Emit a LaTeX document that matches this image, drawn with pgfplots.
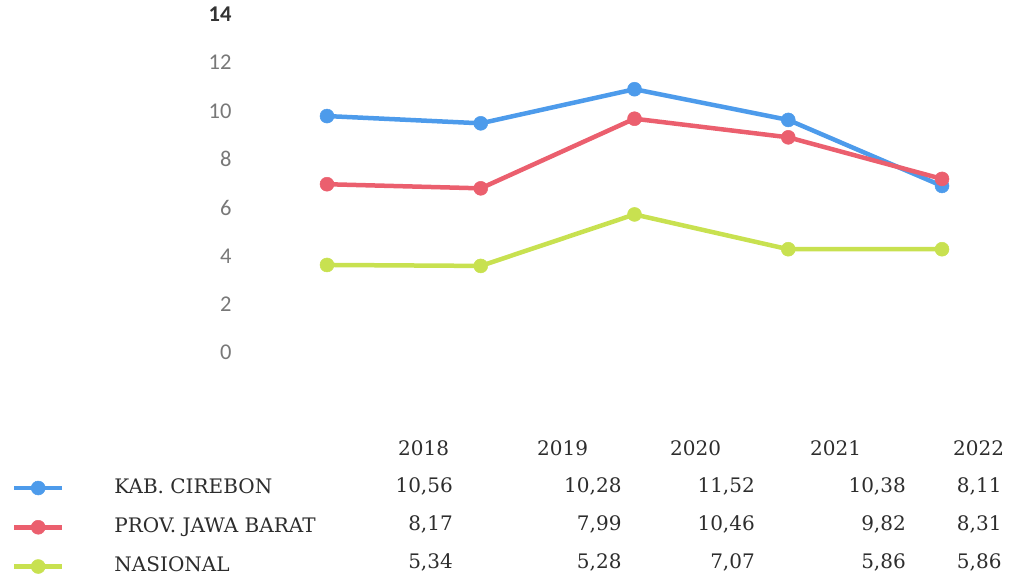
\documentclass[border=0pt]{standalone}
\usepackage{fontspec}
\setmainfont{DejaVu Serif}
\newfontfamily\carlito{Carlito}
\usepackage{pgfplots}
\pgfplotsset{compat=1.18}
\definecolor{cblue}{RGB}{77,155,235}
\definecolor{cred}{RGB}{235,95,110}
\definecolor{cgreen}{RGB}{200,225,80}
\definecolor{ctick}{RGB}{120,120,120}
\definecolor{ctext}{RGB}{45,45,45}
\begin{document}
\begin{tikzpicture}
\path[use as bounding box] (0,0) rectangle (1013pt,580pt);
\begin{axis}[
  at={(234.75pt,227.3pt)}, anchor=south west,
  scale only axis, width=753.4pt, height=338.4pt,
  xmin=-0.6, xmax=4.3, ymin=0, ymax=14,
  axis line style={draw=none},
  major tick length=0pt,
  xtick=\empty,
  ytick={0,2,4,6,8,10,12,14},
  yticklabels={0,2,4,6,8,10,12,{\color{black!80}\bfseries 14}},
  yticklabel style={font=\carlito\fontsize{22.5}{26}\selectfont, text=ctick, inner sep=0pt, xshift=-3pt},
  clip=false,
  legend style={at={(axis description cs:-0.2957,-0.3703)}, anchor=north west,
    draw=none, fill=none, inner sep=0pt, outer sep=0pt, row sep=14pt,
    font=\fontsize{20}{24}\selectfont, text=ctext,
    nodes={inner sep=0pt, text height=15pt, text depth=5pt}},
  legend cell align=left,
  legend image code/.code={
    \draw[#1, mark repeat=2, mark phase=2] plot coordinates {(0pt,0pt)(24pt,0pt)(48pt,0pt)};
    \path (98pt,0pt) (0pt,-13pt);
  },
]
\addplot[cblue, line width=4.5pt, mark=*, mark size=7pt, mark options={line width=0.5pt}]
  coordinates {(0,9.79)(1,9.49)(2,10.90)(3,9.63)(4,6.90)};
\addlegendentry{KAB. CIREBON}
\addplot[cred, line width=4.5pt, mark=*, mark size=7pt, mark options={line width=0.5pt}]
  coordinates {(0,6.97)(1,6.80)(2,9.68)(3,8.91)(4,7.19)};
\addlegendentry{PROV. JAWA BARAT}
\addplot[cgreen, line width=4.5pt, mark=*, mark size=7pt, mark options={line width=0.5pt}]
  coordinates {(0,3.63)(1,3.59)(2,5.72)(3,4.28)(4,4.28)};
\addlegendentry{NASIONAL}
\end{axis}
\begin{scope}[every node/.style={inner sep=0pt, font=\fontsize{20}{24}\selectfont, text=ctext}]
\node[anchor=base west] at (398pt,124pt) {2018};
\node[anchor=base west] at (537pt,124pt) {2019};
\node[anchor=base west] at (670pt,124pt) {2020};
\node[anchor=base west] at (810pt,124pt) {2021};
\node[anchor=base west] at (953pt,124pt) {2022};
\node[anchor=base east] at (453pt,87.5pt) {10,56};
\node[anchor=base east] at (621.7pt,87.5pt) {10,28};
\node[anchor=base east] at (755pt,87.5pt) {11,52};
\node[anchor=base east] at (906pt,87.5pt) {10,38};
\node[anchor=base east] at (1001.7pt,87.5pt) {8,11};
\node[anchor=base east] at (453pt,49pt) {8,17};
\node[anchor=base east] at (621.7pt,49pt) {7,99};
\node[anchor=base east] at (755pt,49pt) {10,46};
\node[anchor=base east] at (906pt,49pt) {9,82};
\node[anchor=base east] at (1001.7pt,49pt) {8,31};
\node[anchor=base east] at (453pt,11pt) {5,34};
\node[anchor=base east] at (621.7pt,11pt) {5,28};
\node[anchor=base east] at (755pt,11pt) {7,07};
\node[anchor=base east] at (906pt,11pt) {5,86};
\node[anchor=base east] at (1001.7pt,11pt) {5,86};
\end{scope}
\end{tikzpicture}
\end{document}
